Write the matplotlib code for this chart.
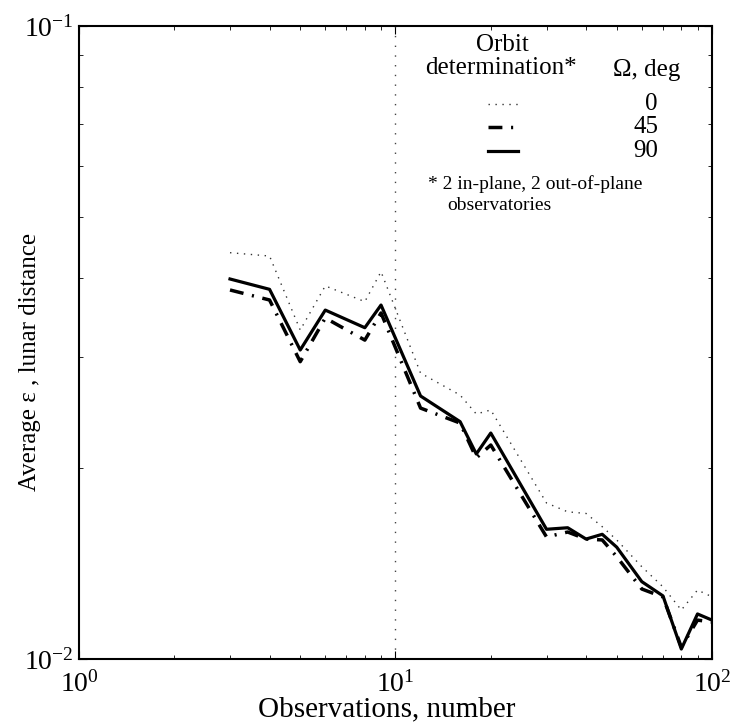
import matplotlib
matplotlib.use("Agg")
import matplotlib.pyplot as plt
from matplotlib.lines import Line2D

plt.rcParams['font.family'] = ['Liberation Serif', 'DejaVu Serif']
plt.rcParams['mathtext.fontset'] = 'stix'

obs = [3, 4, 5, 6, 8, 9, 12, 16, 18, 20, 30, 35, 40, 45, 50, 60, 70, 80, 90, 100]
eps_0 = [0.04384, 0.04331, 0.03309, 0.03885, 0.03669, 0.04091, 0.02829, 0.02612,
         0.02438, 0.02474, 0.01764, 0.01708, 0.01698, 0.01618, 0.01542, 0.01399,
         0.01300, 0.01195, 0.01285, 0.01254]
eps_45 = [0.03828, 0.03691, 0.02949, 0.03457, 0.03190, 0.03521, 0.02491, 0.02359,
          0.02078, 0.02178, 0.01559, 0.01587, 0.01547, 0.01542, 0.01451, 0.01290,
          0.01253, 0.01044, 0.01152, 0.01144]
eps_90 = [0.03984, 0.03837, 0.03077, 0.03558, 0.03337, 0.03624, 0.02603, 0.02371,
          0.02108, 0.02275, 0.01603, 0.01612, 0.01547, 0.01574, 0.01502, 0.01325,
          0.01258, 0.01037, 0.01178, 0.01152]
omega_labels = ['0', '45', '90']
vline_x = 10

W, H = 738, 723
fig = plt.figure(figsize=(W / 100, H / 100), dpi=100)
ax = fig.add_axes([79 / W, 1 - 659 / H, (712 - 79) / W, (659 - 26) / H])

styles = [
    dict(color='#333333', lw=1.0, ls=(0, (1, 4))),
    dict(color='black', lw=2.5, ls=(0, (4, 2.5, 0.6, 2.5))),
    dict(color='black', lw=2.3, ls='-'),
]

ax.axvline(vline_x, color='#444444', lw=1.0, ls=(0, (1, 6)))
for ys, st in zip([eps_0, eps_45, eps_90], styles):
    ax.plot(obs, ys, **st)

ax.set_xscale('log')
ax.set_yscale('log')
ax.set_xlim(1, 100)
ax.set_ylim(0.01, 0.1)
ax.tick_params(which='both', direction='in', top=True, right=True, labelsize=20)
ax.tick_params(axis='x', which='major', pad=9)
ax.tick_params(axis='y', which='major', pad=4)
ax.tick_params(which='major', length=6, width=0.8)
ax.tick_params(which='minor', length=3, width=0.6)
for s in ax.spines.values():
    s.set_linewidth(1.5)
ax.yaxis.set_minor_formatter(matplotlib.ticker.NullFormatter())
ax.xaxis.set_minor_formatter(matplotlib.ticker.NullFormatter())

ax.set_xlabel('Observations, number', fontsize=21)
ax.xaxis.set_label_coords((387 - 79) / 633, -(722 - 659) / 633)
ax.xaxis.label.set_va('bottom')
ax.set_ylabel('Average ε , lunar distance', fontsize=18)
ax.yaxis.set_label_coords((41 - 79) / 633, 1 - (362 - 26) / 633)

# legend block
def fx(x):
    return x / W

def fy(y):
    return 1 - y / H

fig.text(fx(502), fy(45), 'Orbit', fontsize=18, ha='center', va='center')
fig.text(fx(501), fy(68), 'determination*', fontsize=18, ha='center', va='center')
fig.text(fx(647), fy(70), 'Ω, deg', fontsize=18, ha='center', va='center')
rows_y = [104, 127, 151]
for lab, yy, st in zip(omega_labels, rows_y, styles):
    fig.add_artist(Line2D([fx(488), fx(518)], [fy(yy), fy(yy)], transform=fig.transFigure, **st))
    fig.text(fx(658), fy(yy), lab, fontsize=18, ha='right', va='center')
fig.text(fx(428), fy(184), '* 2 in-plane, 2 out-of-plane', fontsize=14, ha='left', va='center')
fig.text(fx(447), fy(205), 'observatories', fontsize=14, ha='left', va='center')

fig.savefig('out.png', dpi=100)
